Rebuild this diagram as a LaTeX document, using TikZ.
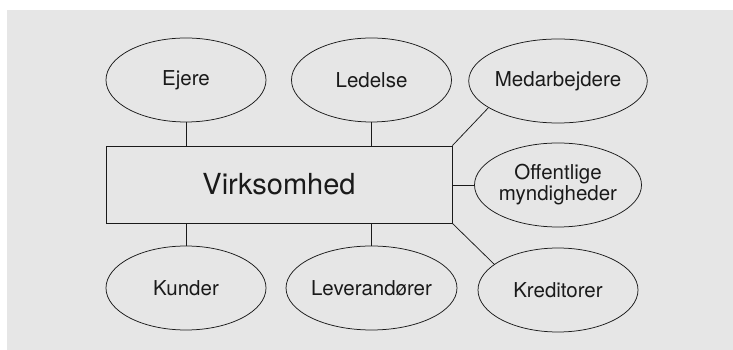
\documentclass[tikz,border=0pt]{standalone}
\usepackage{fontspec}
\setmainfont{TeX Gyre Heros}
\usetikzlibrary{shapes.geometric}
\definecolor{bg}{HTML}{E6E6E6}
\definecolor{ink}{HTML}{1A1A1A}
\begin{document}
\begin{tikzpicture}[x=1pt,y=1pt,
  line width=0.75pt,
  oval/.style={ellipse,draw=ink,inner sep=0pt,minimum width=160pt,minimum height=84pt,
    text=ink,font=\fontsize{20.5}{21}\selectfont,align=center},
  box/.style={rectangle,draw=ink,inner sep=0pt,minimum width=346pt,minimum height=77pt,
    text=ink,font=\fontsize{29}{32}\selectfont},
  link/.style={draw=ink,line width=0.75pt}]
\useasboundingbox (0,0) rectangle (733,350);
\fill[bg] (7,0) rectangle (733,340);
\node[box] (v) at (279,165.5) {Virksomhed};
\node[oval] (ejere) at (186,270) {Ejere};
\node[oval] (ledelse) at (371.5,270) {Ledelse};
\node[oval] (medarb) at (558,269) {Medarbejdere};
\node[oval] (off) at (558,165) {Offentlige\\myndigheder};
\node[oval] (kunder) at (186,62) {Kunder};
\node[oval] (lev) at (371.5,62) {Leverandører};
\node[oval] (kred) at (558,60) {Kreditorer};
\draw[link] (ejere.south) -- (ejere.south |- v.north);
\draw[link] (ledelse.south) -- (ledelse.south |- v.north);
\draw[link] (kunder.north) -- (kunder.north |- v.south);
\draw[link] (lev.north) -- (lev.north |- v.south);
\draw[link] (v.east |- off.west) -- (off.west);
\draw[link] (v.north east) -- (medarb.201);
\draw[link] (v.south east) -- (kred.158);
\end{tikzpicture}
\end{document}
